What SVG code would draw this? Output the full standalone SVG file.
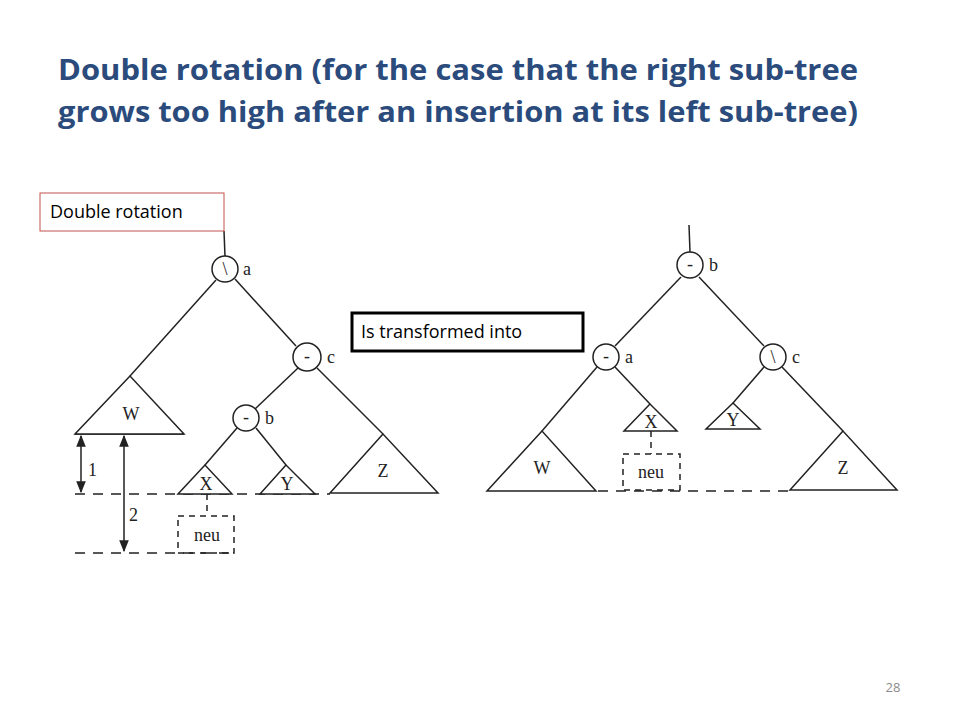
<svg xmlns="http://www.w3.org/2000/svg" width="960" height="720" viewBox="0 0 960 720">
<style>
.t{font-family:"Open Sans","Liberation Sans",sans-serif;font-weight:bold;font-size:28px;fill:#2A4B7C}
.s{font-family:"Open Sans","Liberation Sans",sans-serif;font-size:18px;fill:#000}
.f{font-family:"Liberation Serif",serif;font-size:18px;fill:#222}
.n{fill:#fff;stroke:#222;stroke-width:1.5}
.l{stroke:#222;stroke-width:1.5;fill:none}
.d{stroke:#222;stroke-width:1.5;fill:none;stroke-dasharray:10 8}
.db{stroke:#222;stroke-width:1.5;fill:none;stroke-dasharray:6 5}
.tr{fill:#fff;stroke:#222;stroke-width:1.5}
</style>
<defs><marker id="ah" viewBox="0 0 10 10" refX="9" refY="5" markerWidth="8" markerHeight="8" orient="auto-start-reverse"><path d="M0,1 L10,5 L0,9 z" fill="#222"/></marker></defs>
<rect width="960" height="720" fill="#fff"/>
<text class="t" x="58" y="80" textLength="800" lengthAdjust="spacingAndGlyphs">Double rotation (for the case that the right sub-tree</text>
<text class="t" x="58" y="122" textLength="800" lengthAdjust="spacingAndGlyphs">grows too high after an insertion at its left sub-tree)</text>
<g id="connectors">
<line class="l" x1="224" y1="231" x2="225" y2="256"/>
<line class="l" x1="216" y1="280" x2="130" y2="376"/>
<line class="l" x1="235" y1="279" x2="296" y2="346"/>
<line class="l" x1="298" y1="368" x2="255" y2="409"/>
<line class="l" x1="317" y1="368" x2="383" y2="434"/>
<line class="l" x1="237" y1="428" x2="205" y2="465"/>
<line class="l" x1="256" y1="428" x2="286" y2="465"/>
<line class="d" x1="75" y1="494" x2="330" y2="494"/>
<line class="d" x1="75" y1="553" x2="235" y2="553"/>
<line class="db" x1="207" y1="494" x2="207" y2="516"/>
<line class="l" x1="75" y1="434" x2="184" y2="434"/>
<line class="l" x1="81" y1="436" x2="81" y2="492" marker-start="url(#ah)" marker-end="url(#ah)"/>
<line class="l" x1="124" y1="436" x2="124" y2="551" marker-start="url(#ah)" marker-end="url(#ah)"/>
<line class="l" x1="689" y1="225" x2="690" y2="252"/>
<line class="l" x1="681" y1="277" x2="615" y2="346"/>
<line class="l" x1="699" y1="277" x2="764" y2="346"/>
<line class="l" x1="597" y1="367" x2="542" y2="431"/>
<line class="l" x1="615" y1="367" x2="650" y2="404"/>
<line class="l" x1="764" y1="367" x2="733" y2="403"/>
<line class="l" x1="782" y1="367" x2="843" y2="431"/>
<line class="db" x1="651" y1="431" x2="651" y2="454"/>
<line class="d" x1="598" y1="491" x2="790" y2="491"/>
</g>
<g id="label-double"><rect x="40" y="193" width="184" height="38" fill="#fff" stroke="#C0504D" stroke-width="1"/><text class="s" x="50" y="218">Double rotation</text></g>
<g id="label-into"><rect x="352" y="313" width="231" height="38" fill="#fff" stroke="#000" stroke-width="3"/><text class="s" x="361" y="338">Is transformed into</text></g>
<g id="L-a"><circle class="n" cx="225" cy="269" r="13"/><text class="f" x="225" y="275" text-anchor="middle">\</text><text class="f" x="243" y="275">a</text></g>
<g id="L-c"><circle class="n" cx="307" cy="357" r="14"/><text class="f" x="307" y="362" text-anchor="middle">-</text><text class="f" x="327" y="363">c</text></g>
<g id="L-b"><circle class="n" cx="246" cy="418" r="13"/><text class="f" x="246" y="423" text-anchor="middle">-</text><text class="f" x="265" y="424">b</text></g>
<g id="L-W"><polygon class="tr" points="130,376 75,434 184,434"/><text class="f" x="131" y="420" text-anchor="middle">W</text></g>
<g id="L-Z"><polygon class="tr" points="383,434 330,493 438,493"/><text class="f" x="383" y="477" text-anchor="middle">Z</text></g>
<g id="L-X"><polygon class="tr" points="205,465 178,494 232,494"/><text class="f" x="206" y="490" text-anchor="middle">X</text></g>
<g id="L-Y"><polygon class="tr" points="286,465 260,494 315,494"/><text class="f" x="287" y="490" text-anchor="middle">Y</text></g>
<g id="L-neu"><rect class="db" x="178" y="516" width="56" height="37"/><text class="f" x="207" y="541" text-anchor="middle">neu</text></g>
<g id="L-1"><text class="f" x="88" y="476">1</text></g>
<g id="L-2"><text class="f" x="129" y="521">2</text></g>
<g id="R-b"><circle class="n" cx="690" cy="265" r="13"/><text class="f" x="690" y="270" text-anchor="middle">-</text><text class="f" x="709" y="271">b</text></g>
<g id="R-a"><circle class="n" cx="606" cy="357" r="13"/><text class="f" x="606" y="362" text-anchor="middle">-</text><text class="f" x="625" y="363">a</text></g>
<g id="R-c"><circle class="n" cx="773" cy="357" r="13"/><text class="f" x="773" y="363" text-anchor="middle">\</text><text class="f" x="792" y="363">c</text></g>
<g id="R-W"><polygon class="tr" points="542,431 487,491 596,491"/><text class="f" x="542" y="474" text-anchor="middle">W</text></g>
<g id="R-X"><polygon class="tr" points="650,404 624,431 677,431"/><text class="f" x="651" y="428" text-anchor="middle">X</text></g>
<g id="R-Y"><polygon class="tr" points="733,403 706,429 760,429"/><text class="f" x="733" y="426" text-anchor="middle">Y</text></g>
<g id="R-Z"><polygon class="tr" points="843,431 790,490 897,490"/><text class="f" x="843" y="474" text-anchor="middle">Z</text></g>
<g id="R-neu"><rect class="db" x="623" y="454" width="57" height="36"/><text class="f" x="651" y="478" text-anchor="middle">neu</text></g>
<text x="893" y="692" font-family="Open Sans, Liberation Sans, sans-serif" font-size="13" fill="#8c8c8c" text-anchor="middle">28</text>
</svg>
